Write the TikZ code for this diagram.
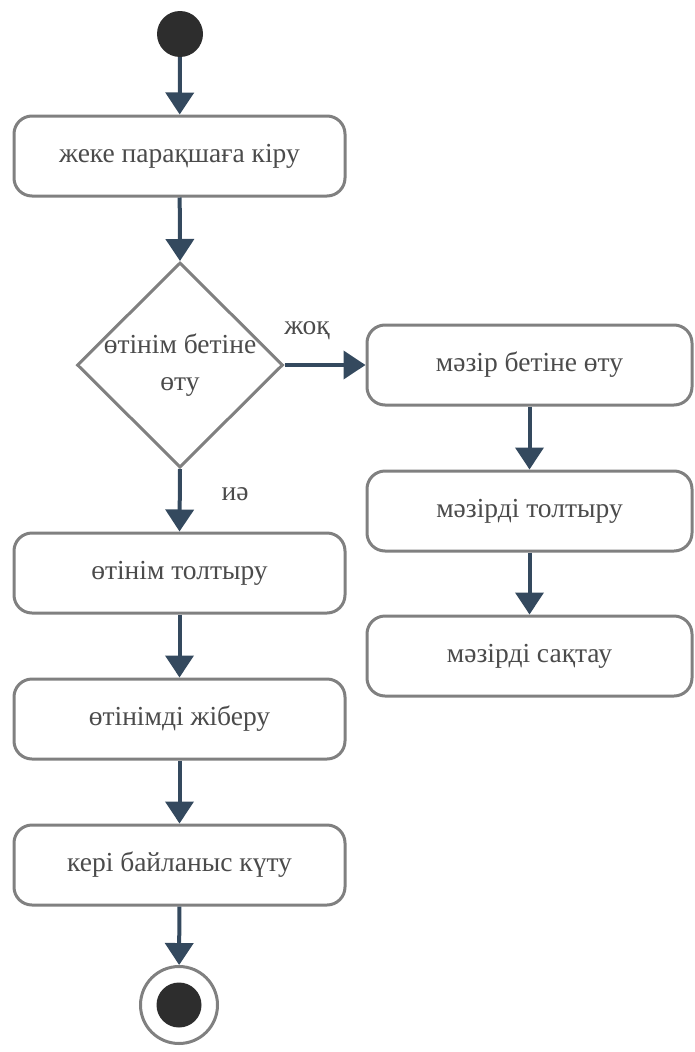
\documentclass[tikz,border=0pt]{standalone}
\usepackage{fontspec}
\setmainfont{Liberation Serif}
\usetikzlibrary{shapes.geometric, arrows.meta, positioning}
\definecolor{mynavy}{RGB}{52,73,94}
\definecolor{mygray}{RGB}{128,128,128}
\definecolor{mytext}{RGB}{75,75,75}
\definecolor{mydot}{RGB}{45,45,45}
\tikzset{
  actbox/.style={rectangle, draw=mygray, fill=white, line width=3pt,
    rounded corners=18pt, minimum width=331pt, minimum height=80pt,
    font=\fontsize{27.5}{32}\selectfont, text=mytext},
  rightbox/.style={actbox, minimum width=325pt},
  decision/.style={diamond, draw=mygray, fill=white, line width=3pt,
    minimum width=206pt, minimum height=205pt, inner sep=-4pt, align=center,
    font=\fontsize{27.5}{37}\selectfont, text=mytext},
  startdot/.style={circle, fill=mydot, minimum size=46pt, inner sep=0pt},
  enddot/.style={circle, draw=mygray, fill=white, line width=3pt,
    minimum size=77pt, inner sep=0pt},
  innerdot/.style={circle, fill=mydot, minimum size=45pt, inner sep=0pt},
  guard/.style={font=\fontsize{27.5}{32}\selectfont, text=mytext},
  arrow/.style={-{Triangle[width=28pt,length=22pt]}, line width=4pt, color=mynavy}
}
\begin{document}
\begin{tikzpicture}[x=1pt, y=-1pt]
  \useasboundingbox (0,0) rectangle (694,1052);

  % Left column
  \node[startdot] (start) at (180,34) {};
  \node[actbox] (enter) at (179.5,156) {жеке парақшаға кіру};
  \node[decision] (choice) at (180,365) {өтінім бетіне\\өту};
  \node[actbox] (fill) at (179.5,573) {өтінім толтыру};
  \node[actbox] (send) at (179.5,719) {өтінімді жіберу};
  \node[actbox] (wait) at (179.5,865) {кері байланыс күту};
  \node[enddot] (stop) at (179,1005) {};
  \node[innerdot] (stopdot) at (179,1005) {};

  % Right column
  \node[rightbox] (menu) at (529.5,365) {мәзір бетіне өту};
  \node[rightbox] (menufill) at (529.5,511) {мәзірді толтыру};
  \node[rightbox] (menusave) at (529.5,656) {мәзірді сақтау};

  % Guards
  \node[guard] (no) at (307,331) {жоқ};
  \node[guard] (yes) at (235,494) {иә};

  % Arrows
  \draw[arrow] (start) -- (enter);
  \draw[arrow] (enter) -- (choice.north);
  \draw[arrow] (choice.east) -- (menu.west);
  \draw[arrow] (choice.south) -- (fill.north);
  \draw[arrow] (fill) -- (send);
  \draw[arrow] (send) -- (wait);
  \draw[arrow] (wait) -- (stop);
  \draw[arrow] (menu) -- (menufill);
  \draw[arrow] (menufill) -- (menusave);
\end{tikzpicture}
\end{document}
